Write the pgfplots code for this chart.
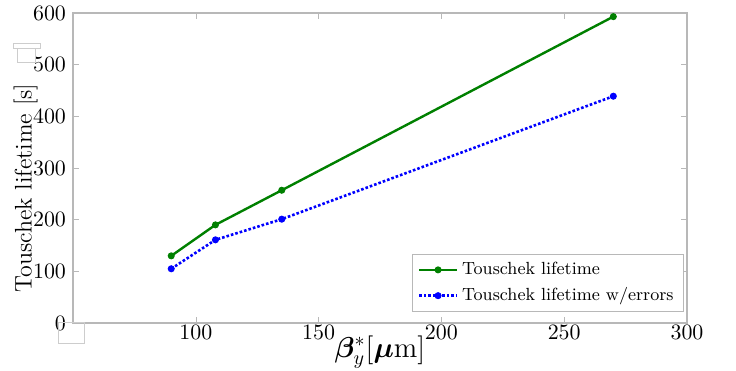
\documentclass[border=0pt]{standalone}
\usepackage{pgfplots}
\pgfplotsset{compat=1.18}
\usepackage{bm}

\definecolor{mplgreen}{rgb}{0,0.5,0}
\definecolor{framegray}{gray}{0.72}

\begin{document}
\begin{tikzpicture}
\begin{axis}[
  scale only axis,
  width=307pt, height=155pt,
  xmin=50, xmax=300, ymin=0, ymax=600,
  xtick={100,150,200,250,300},
  ytick={0,100,200,300,400,500,600},
  axis line style={framegray, line width=0.6pt},
  tick style={framegray},
  tick align=inside,
  major tick length=3pt,
  ticklabel style={font=\fontsize{10.5}{12}\selectfont},
  xticklabel style={yshift=2.5pt},
  xlabel={$\bm{\beta}^*_y[\bm{\mu}\mathrm{m}]$},
  ylabel={Touschek lifetime [s]},
  xlabel style={font=\fontsize{14}{16}\selectfont, at={(axis description cs:0.5,-0.093)}, anchor=center},
  ylabel style={font=\fontsize{12}{14}\selectfont, at={(axis description cs:-0.077,0.435)}, anchor=center},
  legend style={at={(rel axis cs:0.995,0.035)}, anchor=south east,
    draw=framegray, font=\fontsize{8.8}{11}\selectfont,
    row sep=1pt, inner xsep=3pt, inner ysep=2pt},
  legend cell align=left,
  legend image code/.code={%
    \draw[mark repeat=2, mark phase=2]
      plot coordinates {(0cm,0cm) (0.33cm,0cm) (0.66cm,0cm)};},
  clip=false,
]
\addplot[mplgreen, line width=1.2pt, mark=*, mark size=1.5pt, mark options={line width=0.5pt}]
  coordinates {(90,130) (108,190) (135,257) (270,593)};
\addlegendentry{Touschek lifetime}
\addplot[blue, line width=1.3pt, densely dotted, mark=*, mark size=1.5pt, mark options={solid, line width=0.5pt}]
  coordinates {(90,105) (108,161) (135,201) (270,439)};
\addlegendentry{Touschek lifetime w/errors}

% stray empty label boxes
\draw[framegray!70, line width=0.5pt] (rel axis cs:-0.0977,0.903) rectangle (rel axis cs:-0.0537,0.884);
\draw[framegray!70, line width=0.5pt] (rel axis cs:-0.0896,0.884) rectangle (rel axis cs:-0.0603,0.839);
\draw[framegray!70, line width=0.5pt] (rel axis cs:-0.0244,0.003) rectangle (rel axis cs:0.0195,-0.0645);

\coordinate (bbl) at (rel axis cs:-0.1189,-0.1516);
\coordinate (btr) at (rel axis cs:1.0798,1.042);
\end{axis}
\pgfresetboundingbox
\path (bbl) rectangle (btr);
\end{tikzpicture}
\end{document}
